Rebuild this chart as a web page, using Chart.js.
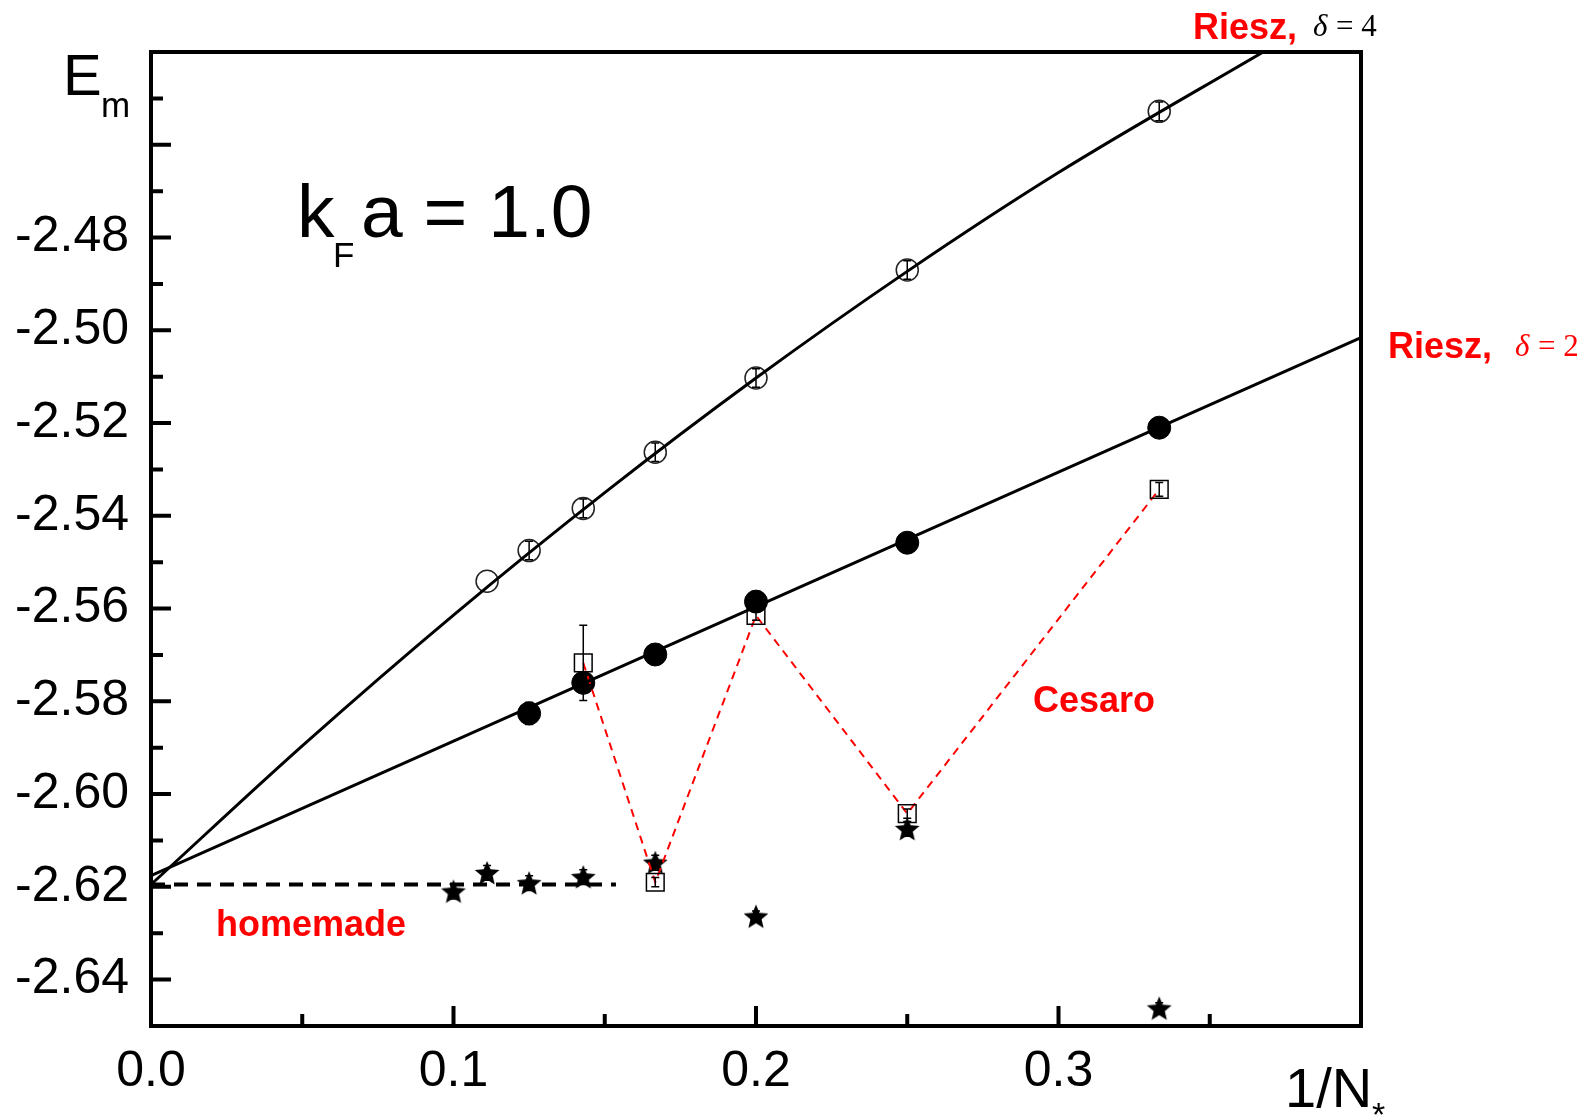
<!DOCTYPE html>
<html>
<head>
<meta charset="utf-8">
<script src="https://cdn.jsdelivr.net/npm/chart.js@4.4.1/dist/chart.umd.min.js"></script>
<style>
  html, body { margin: 0; padding: 0; background: #fff; }
  #wrap { width: 1588px; height: 1117px; position: relative; }
</style>
</head>
<body>
<div id="wrap"><canvas id="plot"></canvas></div>
<script>
// x = 1/N*
const nX = [0.1111, 0.125, 0.1429, 0.1667, 0.2, 0.25, 0.3333];

// Riesz, delta = 4 (open circles)
const riesz4Y = [-2.5541, -2.5475, -2.5384, -2.5263, -2.5103, -2.4870, -2.4528];
const riesz4Err = [0, 0.002, 0.002, 0.002, 0.002, 0.002, 0.002];

// Riesz, delta = 2 (filled circles)
const riesz2X = [0.125, 0.1429, 0.1667, 0.2, 0.25, 0.3333];
const riesz2Y = [-2.5826, -2.5760, -2.5699, -2.5585, -2.5458, -2.5210];
const riesz2Err = [0.0024, 0, 0, 0, 0, 0];

// Cesaro (open squares)
const cesaroX = [0.1429, 0.1667, 0.2, 0.25, 0.3333];
const cesaroY = [-2.5717, -2.6190, -2.5615, -2.6042, -2.5343];
const cesaroErr = [0.0081, 0.001, 0.001, 0.001, 0.0015];

// homemade (stars)
const homeX = [0.1, 0.1111, 0.125, 0.1429, 0.1667, 0.2, 0.25, 0.3333];
const homeY = [-2.6210, -2.6170, -2.6192, -2.6179, -2.6148, -2.6264, -2.6075, -2.6462];
const homeErr = [0.0016, 0.0016, 0.0016, 0.0016, 0.0016, 0.0012, 0.0016, 0.0012];

// fitted curves
const fit4X = [0, 0.05, 0.1, 0.15, 0.2, 0.25, 0.3, 0.37];
const fit4Y = [-2.6195, -2.5896, -2.5614, -2.5350, -2.5103, -2.4873, -2.4660, -2.4391];
const fit2X = [0, 0.4];
const fit2Y = [-2.6176, -2.5016];
const homeLineX = [0, 0.1537];
const homeLineY = [-2.6195, -2.6195];

// axes
const xMin = 0, xMax = 0.4, yMin = -2.65, yMax = -2.44;
const xTickLabels = [0, 0.1, 0.2, 0.3];
const yTickLabels = [-2.64, -2.62, -2.60, -2.58, -2.56, -2.54, -2.52, -2.50, -2.48];
const xMajor = [0.1, 0.2, 0.3];
const xMinor = [0.05, 0.15, 0.25, 0.35];
const yMajor = [-2.64, -2.62, -2.60, -2.58, -2.56, -2.54, -2.52, -2.50, -2.48, -2.46];
const yMinor = [-2.63, -2.61, -2.59, -2.57, -2.55, -2.53, -2.51, -2.49, -2.47, -2.45];

const pts = (xs, ys) => xs.map((x, i) => ({ x: x, y: ys[i] }));

// filled five-point star marker
function makeStar(r) {
  const c = document.createElement('canvas');
  const s = Math.ceil(r * 2 + 2);
  c.width = s; c.height = s;
  const g = c.getContext('2d');
  g.beginPath();
  for (let i = 0; i < 10; i++) {
    const rr = i % 2 === 0 ? r : r * 0.45;
    const a = -Math.PI / 2 + i * Math.PI / 5;
    const px = s / 2 + rr * Math.cos(a), py = s / 2 + 1 + rr * Math.sin(a);
    i === 0 ? g.moveTo(px, py) : g.lineTo(px, py);
  }
  g.closePath();
  g.fillStyle = '#000';
  g.fill();
  return c;
}
const starImg = makeStar(13);

const errorBars = {
  id: 'errorBars',
  afterDatasetsDraw(chart) {
    const ctx = chart.ctx, xs = chart.scales.x, ys = chart.scales.y;
    chart.data.datasets.forEach(ds => {
      if (!ds.errors) return;
      ctx.save();
      ctx.strokeStyle = '#000';
      ctx.lineWidth = 1.5;
      ds.data.forEach((p, i) => {
        const e = ds.errors[i];
        if (!e) return;
        const px = xs.getPixelForValue(p.x);
        const top = ys.getPixelForValue(p.y + e), bot = ys.getPixelForValue(p.y - e);
        ctx.beginPath();
        ctx.moveTo(px, top); ctx.lineTo(px, bot);
        ctx.moveTo(px - 4, top); ctx.lineTo(px + 4, top);
        ctx.moveTo(px - 4, bot); ctx.lineTo(px + 4, bot);
        ctx.stroke();
      });
      ctx.restore();
    });
  }
};

const frameAndTicks = {
  id: 'frameAndTicks',
  afterDraw(chart) {
    const ctx = chart.ctx, a = chart.chartArea, xs = chart.scales.x, ys = chart.scales.y;
    ctx.save();
    ctx.strokeStyle = '#000';
    ctx.lineWidth = 4;
    ctx.strokeRect(a.left, a.top, a.right - a.left, a.bottom - a.top);
    ctx.beginPath();
    xMajor.forEach(v => { const p = xs.getPixelForValue(v); ctx.moveTo(p, a.bottom); ctx.lineTo(p, a.bottom - 20); });
    xMinor.forEach(v => { const p = xs.getPixelForValue(v); ctx.moveTo(p, a.bottom); ctx.lineTo(p, a.bottom - 12); });
    yMajor.forEach(v => { const p = ys.getPixelForValue(v); ctx.moveTo(a.left, p); ctx.lineTo(a.left + 20, p); });
    yMinor.forEach(v => { const p = ys.getPixelForValue(v); ctx.moveTo(a.left, p); ctx.lineTo(a.left + 12, p); });
    ctx.stroke();

    // text annotations
    const sans = '"Liberation Sans", Arial, sans-serif';
    const serif = '"Liberation Serif", "Times New Roman", serif';
    ctx.textBaseline = 'alphabetic';
    ctx.textAlign = 'left';
    ctx.fillStyle = '#000';
    ctx.font = '58px ' + sans; ctx.fillText('E', 63, 95);
    ctx.font = '35px ' + sans; ctx.fillText('m', 101, 117);
    ctx.font = '75px ' + sans; ctx.fillText('k', 297, 237);
    ctx.font = '35px ' + sans; ctx.fillText('F', 333, 267);
    ctx.font = '75px ' + sans; ctx.fillText('a = 1.0', 361, 237);
    ctx.font = '56px ' + sans; ctx.fillText('1/N', 1285, 1107);
    ctx.font = '34px ' + sans; ctx.fillText('*', 1372, 1126);

    ctx.fillStyle = '#ff0000';
    ctx.font = 'bold 36px ' + sans;
    ctx.fillText('Riesz,', 1193, 39);
    ctx.fillText('Riesz,', 1388, 358);
    ctx.fillText('Cesaro', 1033, 712);
    ctx.fillText('homemade', 216, 936);

    ctx.fillStyle = '#000';
    ctx.font = 'italic 31px ' + serif; ctx.fillText('\u03b4', 1313, 36);
    ctx.font = '31px ' + serif; ctx.fillText('= 4', 1336, 36);
    ctx.fillStyle = '#ff0000';
    ctx.font = 'italic 31px ' + serif; ctx.fillText('\u03b4', 1515, 356);
    ctx.font = '31px ' + serif; ctx.fillText('= 2', 1538, 356);
    ctx.restore();
  }
};

const tickFont = { family: '"Liberation Sans", Arial, sans-serif', size: 50 };

new Chart(document.getElementById('plot'), {
  type: 'scatter',
  data: {
    datasets: [
      { data: pts(fit4X, fit4Y), showLine: true, pointRadius: 0, borderColor: '#000', borderWidth: 3, cubicInterpolationMode: 'monotone' },
      { data: pts(fit2X, fit2Y), showLine: true, pointRadius: 0, borderColor: '#000', borderWidth: 3 },
      { data: pts(homeLineX, homeLineY), showLine: true, pointRadius: 0, borderColor: '#000', borderWidth: 4, borderDash: [14, 9] },
      { data: pts(cesaroX, cesaroY), errors: cesaroErr, showLine: true, borderColor: '#ff0000', borderWidth: 2, borderDash: [8, 6],
        pointStyle: 'rect', pointRadius: 12.5, pointBackgroundColor: 'rgba(0,0,0,0)', pointBorderColor: '#000', pointBorderWidth: 1.5 },
      { data: pts(nX, riesz4Y), errors: riesz4Err, showLine: false, pointStyle: 'circle', pointRadius: 11,
        pointBackgroundColor: 'rgba(0,0,0,0)', pointBorderColor: '#222', pointBorderWidth: 1.5 },
      { data: pts(riesz2X, riesz2Y), errors: riesz2Err, showLine: false, pointStyle: 'circle', pointRadius: 11.5,
        pointBackgroundColor: '#000', pointBorderColor: '#000', pointBorderWidth: 1 },
      { data: pts(homeX, homeY), errors: homeErr, showLine: false, pointStyle: starImg }
    ]
  },
  options: {
    responsive: true,
    maintainAspectRatio: false,
    animation: false,
    events: [],
    layout: { padding: { left: 0, right: 227, top: 52, bottom: 0 } },
    plugins: { legend: { display: false }, tooltip: { enabled: false } },
    scales: {
      x: {
        type: 'linear', min: xMin, max: xMax,
        grid: { display: false, drawTicks: false },
        border: { display: false },
        afterFit: s => { s.height = 91; },
        afterBuildTicks: s => { s.ticks = xTickLabels.map(v => ({ value: v })); },
        ticks: { color: '#000', font: tickFont, padding: 16, maxRotation: 0,
                 callback: v => v.toFixed(1) }
      },
      y: {
        type: 'linear', min: yMin, max: yMax,
        grid: { display: false, drawTicks: false },
        border: { display: false },
        afterFit: s => { s.width = 151; },
        afterBuildTicks: s => { s.ticks = yTickLabels.map(v => ({ value: v })); },
        ticks: { color: '#000', font: tickFont, padding: 22,
                 callback: v => v.toFixed(2) }
      }
    }
  },
  plugins: [errorBars, frameAndTicks]
});
</script>
</body>
</html>
